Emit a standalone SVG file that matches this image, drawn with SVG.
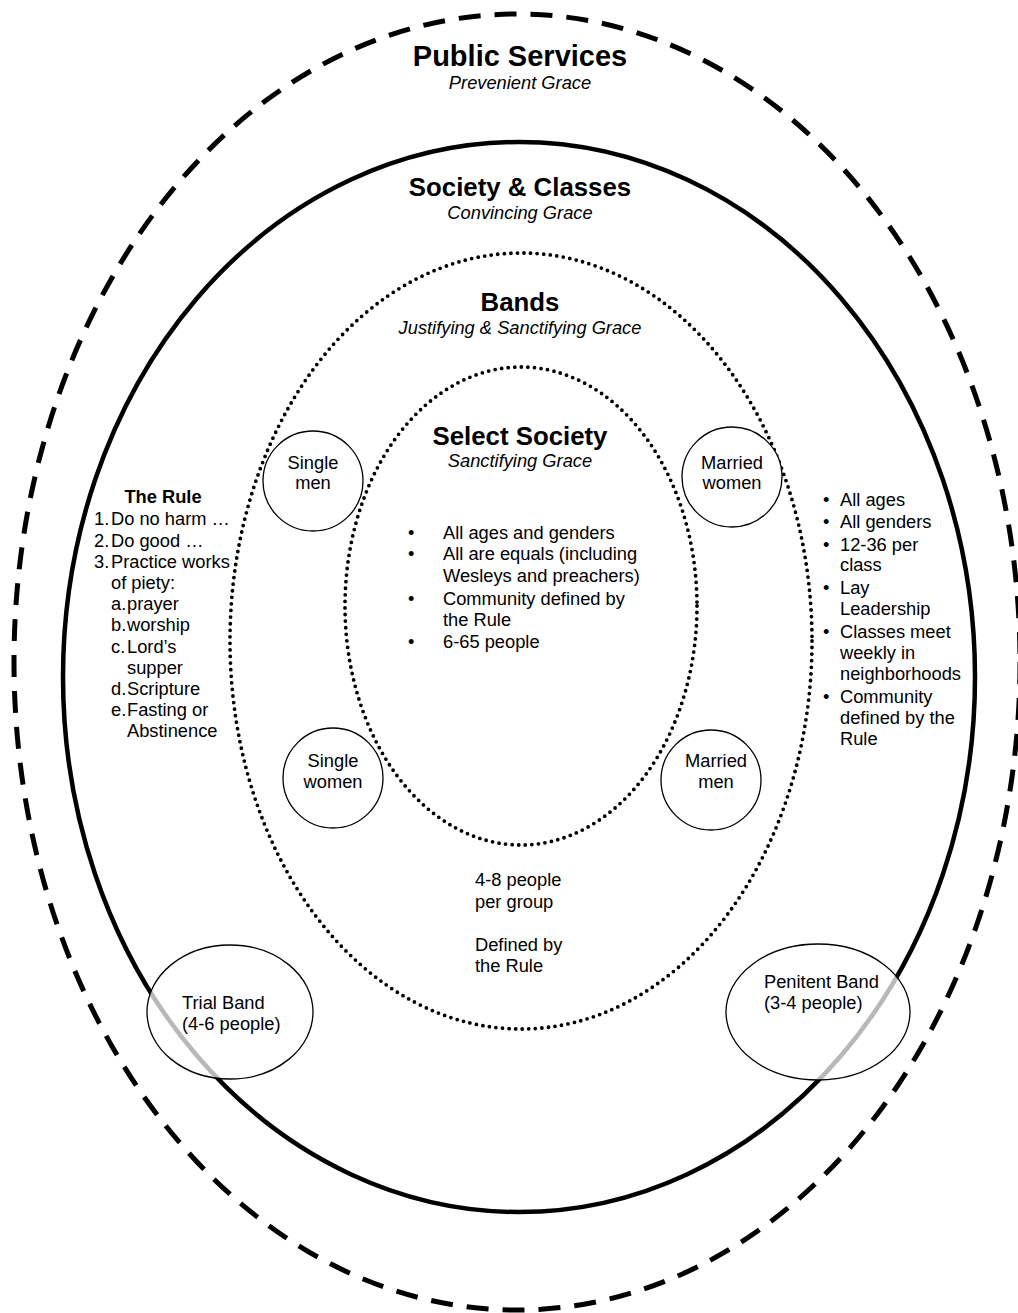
<svg xmlns="http://www.w3.org/2000/svg" width="1018" height="1313" viewBox="0 0 1018 1313">
<style>
text{font-family:"Liberation Sans",Arial,sans-serif;font-size:18.3px;fill:#000}
.t1{font-size:29px;font-weight:bold}
.t2{font-size:25.8px;font-weight:bold}
.it{font-style:italic}
.b{font-weight:bold}
.c{text-anchor:middle}
.thin{fill:#fff;stroke:#000;stroke-width:1.3}
.band{fill:#fff;fill-opacity:0.72;stroke:#000;stroke-width:1.3}
.dot{fill:none;stroke:#000;stroke-width:3.8;stroke-linecap:round;stroke-dasharray:0 6.6}
</style>
<rect width="1018" height="1313" fill="#fff"/>
<g id="public-services">
<ellipse cx="517" cy="662" rx="503" ry="648" fill="none" stroke="#000" stroke-width="5" stroke-dasharray="22 14"/>
<text class="t1 c" x="520" y="66">Public Services</text>
<text class="it c" x="520" y="89">Prevenient Grace</text>
</g>
<g id="society-classes">
<ellipse cx="519" cy="677" rx="456" ry="535" fill="none" stroke="#000" stroke-width="4.5"/>
<text class="t2 c" x="520" y="196">Society &amp; Classes</text>
<text class="it c" x="520" y="219">Convincing Grace</text>
</g>
<g id="bands">
<ellipse class="dot" cx="521" cy="641" rx="291" ry="388"/>
<text class="t2 c" x="520" y="311">Bands</text>
<text class="it c" x="520" y="334">Justifying &amp; Sanctifying Grace</text>
</g>
<g id="select-society">
<ellipse class="dot" cx="521" cy="606" rx="176" ry="239"/>
<text class="t2 c" x="520" y="445">Select Society</text>
<text class="it c" x="520" y="467">Sanctifying Grace</text>
<text x="408" y="539">•</text><text x="443" y="539">All ages and genders</text>
<text x="408" y="560">•</text><text x="443" y="560">All are equals (including</text>
<text x="443" y="582">Wesleys and preachers)</text>
<text x="408" y="605">•</text><text x="443" y="605">Community defined by</text>
<text x="443" y="626">the Rule</text>
<text x="408" y="648">•</text><text x="443" y="648">6-65 people</text>
</g>
<g id="single-men">
<circle class="thin" cx="313" cy="481" r="50"/>
<text class="c" x="313" y="469">Single</text>
<text class="c" x="313" y="489">men</text>
</g>
<g id="married-women">
<circle class="thin" cx="732" cy="477" r="50"/>
<text class="c" x="732" y="469">Married</text>
<text class="c" x="732" y="489">women</text>
</g>
<g id="single-women">
<circle class="thin" cx="333" cy="778" r="50"/>
<text class="c" x="333" y="767">Single</text>
<text class="c" x="333" y="788">women</text>
</g>
<g id="married-men">
<circle class="thin" cx="711" cy="780" r="50"/>
<text class="c" x="716" y="767">Married</text>
<text class="c" x="716" y="788">men</text>
</g>
<g id="band-note">
<text x="475" y="886">4-8 people</text>
<text x="475" y="908">per group</text>
<text x="475" y="951">Defined by</text>
<text x="475" y="972">the Rule</text>
</g>
<g id="the-rule">
<text class="b c" x="163" y="503">The Rule</text>
<text x="94" y="525">1.</text><text x="111" y="525">Do no harm …</text>
<text x="94" y="547">2.</text><text x="111" y="547">Do good …</text>
<text x="94" y="568">3.</text><text x="111" y="568">Practice works</text>
<text x="111" y="589">of piety:</text>
<text x="111" y="610">a.</text><text x="127" y="610">prayer</text>
<text x="111" y="631">b.</text><text x="127" y="631">worship</text>
<text x="111" y="653">c.</text><text x="127" y="653">Lord’s</text>
<text x="127" y="674">supper</text>
<text x="111" y="695">d.</text><text x="127" y="695">Scripture</text>
<text x="111" y="716">e.</text><text x="127" y="716">Fasting or</text>
<text x="127" y="737">Abstinence</text>
</g>
<g id="class-notes">
<text x="823" y="506">•</text><text x="840" y="506">All ages</text>
<text x="823" y="528">•</text><text x="840" y="528">All genders</text>
<text x="823" y="551">•</text><text x="840" y="551">12-36 per</text>
<text x="840" y="571">class</text>
<text x="823" y="594">•</text><text x="840" y="594">Lay</text>
<text x="840" y="615">Leadership</text>
<text x="823" y="638">•</text><text x="840" y="638">Classes meet</text>
<text x="840" y="659">weekly in</text>
<text x="840" y="680">neighborhoods</text>
<text x="823" y="703">•</text><text x="840" y="703">Community</text>
<text x="840" y="724">defined by the</text>
<text x="840" y="745">Rule</text>
</g>
<g id="trial-band">
<ellipse class="band" cx="230" cy="1012" rx="83" ry="67"/>
<text x="182" y="1009">Trial Band</text>
<text x="182" y="1030">(4-6 people)</text>
</g>
<g id="penitent-band">
<ellipse class="band" cx="818" cy="1012" rx="92" ry="68"/>
<text x="764" y="988">Penitent Band</text>
<text x="764" y="1009">(3-4 people)</text>
</g>
<g id="connectors"></g>
</svg>
